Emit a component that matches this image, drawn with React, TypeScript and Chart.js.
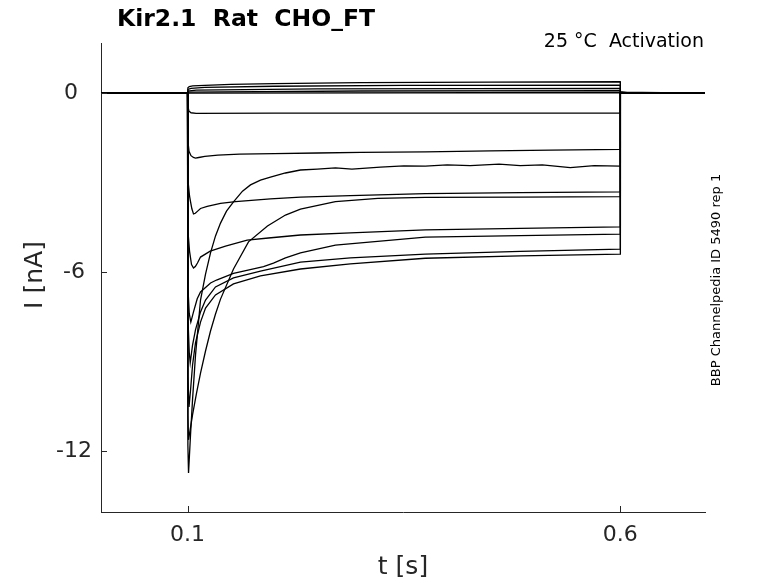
import React, { useEffect, useRef } from "react";
import { Chart, registerables } from "chart.js";

Chart.register(...registerables);

type Pt = [number, number];

// x ticks (s) and y ticks (nA)
const xTicks = [0.1, 0.6];
const yTicks = [-12, -6, 0];
const yTickLabels = ["-12", "-6 ", "0  "];
const xRange = [0, 0.698];
const yRange = [-14.05, 1.68];

const titleText = "Kir2.1  Rat  CHO_FT";
const cornerText = "25 °C  Activation";
const sideText = "BBP Channelpedia ID 5490 rep 1";
const xLabel = "t [s]";
const yLabel = "I [nA]";

// sweeps: [time s, current nA]
const sweepP1: Pt[] = [[0, 0], [0.1, 0], [0.1004, 0.18], [0.102, 0.22], [0.106, 0.24], [0.12, 0.26], [0.15, 0.29], [0.2, 0.32], [0.3, 0.35], [0.45, 0.37], [0.6, 0.38], [0.6002, 0.05], [0.61, 0.01], [0.698, 0]];
const sweepP2: Pt[] = [[0, 0], [0.1, 0], [0.1004, 0.12], [0.104, 0.16], [0.12, 0.19], [0.2, 0.23], [0.35, 0.26], [0.6, 0.27], [0.6002, 0.03], [0.698, 0]];
const sweepP3: Pt[] = [[0, 0], [0.1, 0], [0.1004, 0.07], [0.11, 0.1], [0.25, 0.14], [0.6, 0.16], [0.6002, 0], [0.698, 0]];
const sweepP4: Pt[] = [[0, 0], [0.1, 0], [0.1004, 0.03], [0.3, 0.07], [0.6, 0.08], [0.6002, 0], [0.698, 0]];
const sweepP5: Pt[] = [[0, 0], [0.1, 0], [0.6, 0.02], [0.6002, 0], [0.698, 0]];
const sweepN1: Pt[] = [[0, 0], [0.1, 0], [0.1003, -0.4], [0.1015, -0.6], [0.104, -0.66], [0.11, -0.68], [0.2, -0.67], [0.4, -0.67], [0.6, -0.67], [0.6002, 0], [0.698, 0]];
const sweepN2: Pt[] = [[0, 0], [0.1, 0], [0.1004, -1.6], [0.1017, -1.95], [0.104, -2.1], [0.1068, -2.16], [0.1092, -2.18], [0.113, -2.16], [0.12, -2.12], [0.135, -2.08], [0.16, -2.05], [0.2, -2.03], [0.25, -2.01], [0.3, -1.99], [0.375, -1.97], [0.45, -1.94], [0.52, -1.91], [0.6, -1.89], [0.6002, 0], [0.698, 0]];
const sweepN3: Pt[] = [[0, 0], [0.1, 0], [0.1004, -2.9], [0.1023, -3.45], [0.1035, -3.65], [0.105, -3.88], [0.1069, -4.05], [0.109, -4.03], [0.112, -3.95], [0.115, -3.87], [0.1227, -3.8], [0.1381, -3.7], [0.1554, -3.64], [0.1958, -3.55], [0.2305, -3.49], [0.2882, -3.44], [0.3748, -3.37], [0.4845, -3.34], [0.6, -3.31], [0.6002, 0], [0.698, 0]];
const sweepN4: Pt[] = [[0, 0], [0.1, 0], [0.1004, -4.6], [0.1023, -5.3], [0.1046, -5.75], [0.1069, -5.87], [0.109, -5.82], [0.1115, -5.7], [0.115, -5.5], [0.1262, -5.3], [0.1439, -5.13], [0.1689, -4.93], [0.1935, -4.86], [0.2305, -4.76], [0.2882, -4.69], [0.3748, -4.59], [0.4845, -4.54], [0.6, -4.49], [0.6002, 0], [0.698, 0]];
const sweepN5: Pt[] = [[0, 0], [0.1, 0], [0.1004, -6.5], [0.102, -7.4], [0.1038, -7.68], [0.1069, -7.34], [0.1112, -6.9], [0.115, -6.67], [0.1266, -6.37], [0.1335, -6.27], [0.1531, -6.05], [0.1647, -5.97], [0.1878, -5.82], [0.1993, -5.7], [0.2132, -5.53], [0.2305, -5.36], [0.2709, -5.1], [0.3748, -4.83], [0.4845, -4.78], [0.6, -4.73], [0.6002, 0], [0.698, 0]];
const sweepN6: Pt[] = [[0, 0], [0.1, 0], [0.1004, -7.5], [0.102, -8.7], [0.1031, -9.05], [0.1058, -8.45], [0.1092, -7.94], [0.115, -7.34], [0.1208, -6.94], [0.1323, -6.5], [0.1531, -6.2], [0.1843, -5.97], [0.2305, -5.67], [0.2882, -5.53], [0.3748, -5.4], [0.4845, -5.31], [0.6, -5.23], [0.6002, 0], [0.698, 0]];
const sweepN7: Pt[] = [[0, 0], [0.1, 0], [0.1004, -9.5], [0.1017, -10.53], [0.1035, -9.96], [0.1058, -9.12], [0.1092, -8.38], [0.115, -7.68], [0.1208, -7.21], [0.1323, -6.77], [0.1531, -6.4], [0.1843, -6.13], [0.2305, -5.9], [0.2882, -5.73], [0.3748, -5.54], [0.4845, -5.46], [0.6, -5.4], [0.6002, 0], [0.698, 0]];
const sweepN8: Pt[] = [[0, 0], [0.1, 0], [0.1004, -10.8], [0.10115, -11.63], [0.10577, -10.79], [0.11039, -10.06], [0.11501, -9.39], [0.12079, -8.65], [0.12656, -7.98], [0.13233, -7.41], [0.13811, -6.91], [0.15312, -5.9], [0.17044, -4.99], [0.19238, -4.46], [0.21316, -4.09], [0.23048, -3.89], [0.2709, -3.64], [0.32, -3.53], [0.37483, -3.5], [0.48453, -3.49], [0.6, -3.47], [0.6002, 0], [0.698, 0]];
const sweepN9: Pt[] = [[0, 0], [0.1, 0], [0.1004, -11.8], [0.10115, -12.74], [0.10346, -11.46], [0.10577, -10.29], [0.10924, -8.78], [0.11501, -6.94], [0.12079, -6.07], [0.12656, -5.36], [0.13233, -4.79], [0.13811, -4.36], [0.14503, -3.96], [0.15312, -3.65], [0.16351, -3.29], [0.17275, -3.08], [0.1843, -2.92], [0.19584, -2.82], [0.21316, -2.68], [0.23048, -2.58], [0.25, -2.55], [0.2709, -2.51], [0.29, -2.55], [0.32286, -2.48], [0.35, -2.44], [0.37483, -2.45], [0.4, -2.41], [0.42679, -2.43], [0.46, -2.38], [0.48453, -2.43], [0.51, -2.41], [0.54226, -2.5], [0.57, -2.43], [0.6, -2.45], [0.6002, 0], [0.698, 0]];

const sweeps: Pt[][] = [sweepP1, sweepP2, sweepP3, sweepP4, sweepP5, sweepN1, sweepN2, sweepN3, sweepN4, sweepN5, sweepN6, sweepN7, sweepN8, sweepN9];

const FONT = "'DejaVu Sans', sans-serif";
const AXIS_COLOR = "#262626";

const decorPlugin = {
  id: "decor",
  afterDraw(chart: any) {
    const ctx = chart.ctx as CanvasRenderingContext2D;
    const { chartArea } = chart;
    const xs = chart.scales.x;
    const ys = chart.scales.y;
    ctx.save();
    // inward ticks
    ctx.strokeStyle = AXIS_COLOR;
    ctx.lineWidth = 1;
    ctx.beginPath();
    for (const v of xTicks) {
      const px = Math.round(xs.getPixelForValue(v)) + 0.5;
      ctx.moveTo(px, chartArea.bottom);
      ctx.lineTo(px, chartArea.bottom - 6);
    }
    for (const v of yTicks) {
      const py = Math.round(ys.getPixelForValue(v)) + 0.5;
      ctx.moveTo(chartArea.left, py);
      ctx.lineTo(chartArea.left + 6, py);
    }
    ctx.stroke();

    // title
    ctx.fillStyle = "#000";
    ctx.font = `bold 23.5px ${FONT}`;
    ctx.textAlign = "center";
    ctx.textBaseline = "alphabetic";
    ctx.fillText(titleText, 246, 26);

    // corner text
    ctx.font = `19px ${FONT}`;
    ctx.textAlign = "right";
    ctx.fillText(cornerText, 704, 47);

    // axis labels
    ctx.fillStyle = AXIS_COLOR;
    ctx.font = `25px ${FONT}`;
    ctx.textAlign = "center";
    ctx.textBaseline = "middle";
    ctx.fillText(xLabel, 403, 567);
    ctx.save();
    ctx.translate(35, 275);
    ctx.rotate(-Math.PI / 2);
    ctx.fillText(yLabel, 0, 0);
    ctx.restore();

    // side text
    ctx.fillStyle = "#000";
    ctx.font = `13px ${FONT}`;
    ctx.save();
    ctx.translate(717, 280);
    ctx.rotate(-Math.PI / 2);
    ctx.fillText(sideText, 0, 0);
    ctx.restore();

    ctx.restore();
  },
};

export default function App() {
  const ref = useRef<HTMLCanvasElement | null>(null);
  useEffect(() => {
    if (!ref.current) return;
    const chart = new Chart(ref.current, {
      type: "line",
      data: {
        datasets: sweeps.map((s, i) => ({
          label: `sweep ${i + 1}`,
          data: s.map(([x, y]) => ({ x, y })),
          borderColor: "#000",
          borderWidth: 1.3,
          pointRadius: 0,
          fill: false,
          tension: 0,
        })),
      },
      options: {
        responsive: false,
        animation: false,
        events: [],
        layout: { padding: { left: 0, right: 73, top: 43, bottom: 0 } },
        plugins: {
          legend: { display: false },
          title: { display: false },
          tooltip: { enabled: false },
        },
        scales: {
          x: {
            type: "linear",
            min: xRange[0],
            max: xRange[1],
            afterFit: (s: any) => {
              s.height = 71;
            },
            afterBuildTicks: (s: any) => {
              s.ticks = xTicks.map((v) => ({ value: v }));
            },
            grid: { display: false, drawTicks: false },
            border: { display: true, color: AXIS_COLOR, width: 1 },
            ticks: {
              padding: 10,
              color: AXIS_COLOR,
              font: { family: FONT, size: 22 },
              maxRotation: 0,
              callback: (v: any) => String(v),
            },
          },
          y: {
            type: "linear",
            min: yRange[0],
            max: yRange[1],
            afterFit: (s: any) => {
              s.width = 101;
            },
            afterBuildTicks: (s: any) => {
              s.ticks = yTicks.map((v) => ({ value: v }));
            },
            grid: { display: false, drawTicks: false },
            border: { display: true, color: AXIS_COLOR, width: 1 },
            ticks: {
              padding: 9,
              color: AXIS_COLOR,
              font: { family: FONT, size: 22 },
              callback: (v: any) => {
                const i = yTicks.indexOf(Number(v));
                return i >= 0 ? yTickLabels[i] : String(v);
              },
            },
          },
        },
      },
      plugins: [decorPlugin],
    });
    return () => chart.destroy();
  }, []);
  return (
    <div style={{ position: "fixed", left: 0, top: 0, width: 778, height: 583, background: "#fff" }}>
      <canvas ref={ref} width={778} height={583} style={{ width: 778, height: 583 }} />
    </div>
  );
}
